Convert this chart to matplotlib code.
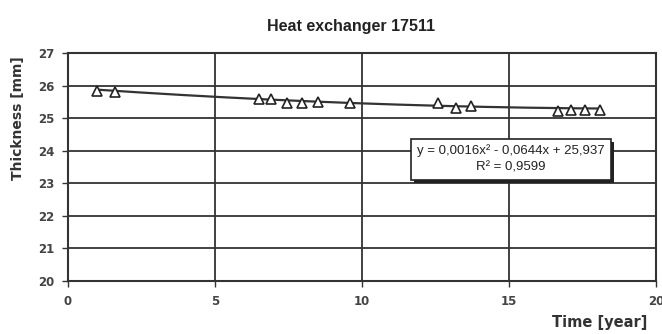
import matplotlib
matplotlib.use("Agg")
import matplotlib.pyplot as plt
import numpy as np
from matplotlib.patches import Rectangle

# Data
time_years = [1.0, 1.6, 6.5, 6.9, 7.45, 7.95, 8.5, 9.6, 12.6, 13.2, 13.7, 16.65, 17.1, 17.6, 18.1]
thickness_mm = [25.83, 25.80, 25.58, 25.60, 25.45, 25.48, 25.50, 25.47, 25.47, 25.30, 25.38, 25.23, 25.26, 25.26, 25.26]
trend_coeffs = [0.0016, -0.0644, 25.937]
r_squared = 0.9599
x_ticks = [0, 5, 10, 15, 20]
y_ticks = [20, 21, 22, 23, 24, 25, 26, 27]

title = "Heat exchanger 17511"
xlabel = "Time [year]"
ylabel = "Thickness [mm]"

W, H = 662, 334
fig = plt.figure(figsize=(W / 100, H / 100), dpi=100)
fig.patch.set_facecolor("white")

L, R, T, B = 68, 656, 53, 281
ax = fig.add_axes([L / W, (H - B) / H, (R - L) / W, (B - T) / H])

dark = "#333333"
ax.set_xlim(0, 20)
ax.set_ylim(20, 27)
ax.set_xticks(x_ticks)
ax.set_yticks(y_ticks)
ax.grid(True, color=dark, linewidth=1.3)
ax.set_axisbelow(True)
for s in ax.spines.values():
    s.set_color(dark)
    s.set_linewidth(1.5)
ax.tick_params(axis="both", direction="out", length=4, width=1, color=dark,
               labelsize=8.5, labelcolor="#444444", pad=6)
for lab in ax.get_xticklabels() + ax.get_yticklabels():
    lab.set_fontweight("bold")
    lab.set_family("DejaVu Sans")

# trendline
xt = np.linspace(min(time_years), max(time_years), 200)
yt = np.polyval(trend_coeffs, xt)
ax.plot(xt, yt, color=dark, linewidth=1.6, zorder=3)
ax.plot(time_years, thickness_mm, linestyle="none", marker="^", markersize=7,
        markerfacecolor="white", markeredgecolor="#222222", markeredgewidth=1.2, zorder=4)

# Title and labels
fig.text(351 / W, 1 - 27 / H, title, ha="center", va="center", fontsize=11.5,
         fontweight="bold", family="Liberation Sans", color="#222222")
fig.text(18 / W, 1 - 118 / H, ylabel, ha="center", va="center", rotation=90,
         fontsize=10, fontweight="bold", family="DejaVu Sans", color="#333333")
fig.text(600 / W, 1 - 322 / H, xlabel, ha="center", va="center",
         fontsize=10.5, fontweight="bold", family="DejaVu Sans", color="#333333")

# Equation box with shadow
bx0, bx1, by0, by1 = 411, 611, 139, 180
sh = 3
fig.patches.append(Rectangle(((bx0 + sh) / W, 1 - (by1 + sh) / H), (bx1 - bx0) / W, (by1 - by0) / H,
                             transform=fig.transFigure, facecolor="#222222", edgecolor="none", zorder=5))
fig.patches.append(Rectangle((bx0 / W, 1 - by1 / H), (bx1 - bx0) / W, (by1 - by0) / H,
                             transform=fig.transFigure, facecolor="white", edgecolor="#222222",
                             linewidth=1.2, zorder=6))
a, b, c = trend_coeffs
eq = "y = {}x\u00b2 - {}x + {}".format(f"{a:.4f}".replace(".", ","), f"{abs(b):.4f}".replace(".", ","),
                                        f"{c:.3f}".replace(".", ","))
fig.text((bx0 + bx1) / 2 / W, 1 - 151 / H, eq, ha="center", va="center", fontsize=9.5,
         family="Liberation Sans", color="#222222", zorder=7)
fig.text((bx0 + bx1) / 2 / W, 1 - 168 / H, "R\u00b2 = " + f"{r_squared:.4f}".replace(".", ","),
         ha="center", va="center", fontsize=9.5, family="Liberation Sans", color="#222222", zorder=7)

fig.savefig("out.png", dpi=100)
